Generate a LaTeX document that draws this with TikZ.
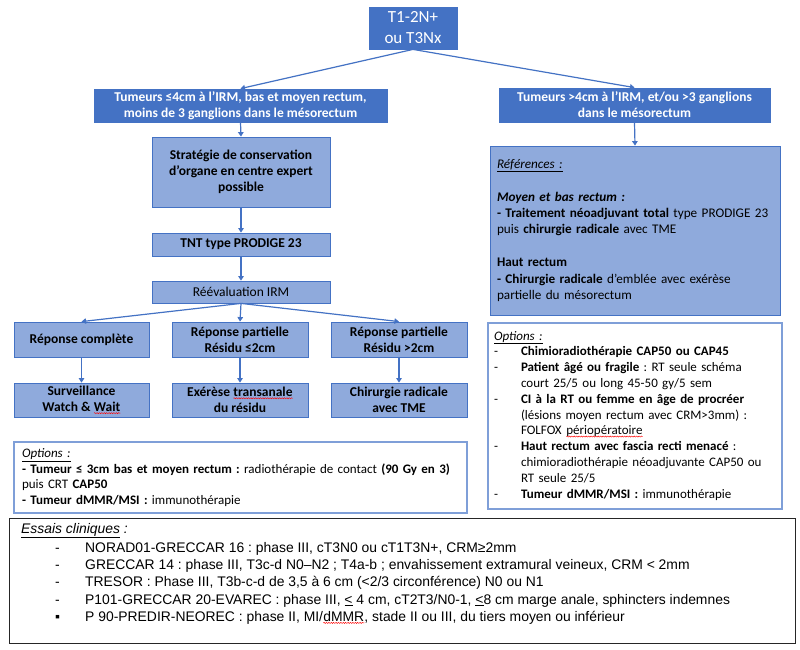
\documentclass[tikz,border=0pt]{standalone}
\usepackage{fontspec}
\setmainfont{Carlito}
\newfontfamily\arialf{Liberation Sans}
\usetikzlibrary{arrows.meta,decorations.pathmorphing}
\definecolor{dkblue}{HTML}{4472C4}
\definecolor{ltblue}{HTML}{8FAADC}
\definecolor{optborder}{HTML}{7F9FD8}
\frenchspacing
\newcommand\redwave[1]{\tikz[baseline=(spellw.base)]{\node[inner sep=0pt,outer sep=0pt,font={},draw=none,fill=none,minimum width=0pt,minimum height=0pt] (spellw) {#1};
  \draw[red, line width=0.45pt, decorate, decoration={snake, amplitude=0.55pt, segment length=2.4pt}] ([yshift=-1.6pt]spellw.base west) -- ([yshift=-1.6pt]spellw.base east);}}
\begin{document}
\begin{tikzpicture}[x=1pt,y=-1pt,
  dkbox/.style={draw=dkblue, fill=dkblue, text=white, font=\bfseries\fontsize{13.5}{16}\selectfont, align=center, inner sep=0pt, line width=0.8pt},
  ltbox/.style={draw=dkblue, fill=ltblue, text=black, font=\bfseries\fontsize{13.5}{16}\selectfont, align=center, inner sep=0pt, line width=0.8pt},
  optbox/.style={draw=optborder, fill=white, line width=1.1pt, inner sep=0pt, font=\fontsize{13}{15.8}\selectfont},
  arr/.style={draw=dkblue, line width=1.2pt, -{Triangle[width=5.5pt,length=4.5pt]}},
]
\useasboundingbox (0,0) rectangle (800,650);
\fill[white] (0,0) rectangle (800,650);

\node[dkbox, minimum width=88pt, minimum height=42pt, font=\fontsize{17}{21}\selectfont] (top) at (413,28) {T1-2N+\\ou T3Nx};

\node[dkbox, minimum width=293pt, minimum height=33pt] (L1) at (240.5,105.5) {Tumeurs ≤4cm à l’IRM, bas et moyen rectum,\\moins de 3 ganglions dans le mésorectum};
\node[dkbox, minimum width=271pt, minimum height=34pt] (R1) at (634.5,105) {Tumeurs >4cm à l’IRM, et/ou >3 ganglions\\dans le mésorectum};

\node[ltbox, minimum width=290pt, minimum height=169pt, font=\fontsize{13.2}{16.4}\selectfont, align=left, text width=276pt] (ref) at (635,230.5) {\underline{\textit{Références :}}\\
\mbox{}\\
\textbf{\textit{Moyen et bas rectum :}}\\
\textbf{- Traitement néoadjuvant total} type PRODIGE 23\\
puis \textbf{chirurgie radicale} avec TME\\
\mbox{}\\
\textbf{Haut rectum}\\
\textbf{- Chirurgie radicale} d’emblée avec exérèse\\
partielle du mésorectum};

\node[ltbox, minimum width=178pt, minimum height=70pt] (strat) at (241,172) {Stratégie de conservation\\d’organe en centre expert\\possible};
\node[ltbox, minimum width=178pt, minimum height=23pt] (tnt) at (241,244.5) {TNT type PRODIGE 23};
\node[ltbox, minimum width=178pt, minimum height=22pt, font=\fontsize{13.5}{16}\selectfont] (reev) at (241,292) {Réévaluation IRM};

\node[ltbox, minimum width=135pt, minimum height=35pt] (rc) at (81.5,339.5) {Réponse complète};
\node[ltbox, minimum width=136pt, minimum height=35pt] (rp1) at (240,339.5) {Réponse partielle\\Résidu ≤2cm};
\node[ltbox, minimum width=136pt, minimum height=35pt] (rp2) at (399,339.5) {Réponse partielle\\Résidu >2cm};

\node[ltbox, minimum width=135pt, minimum height=34pt] (sw) at (81.5,400) {Surveillance\\Watch \& \redwave{Wait}};
\node[ltbox, minimum width=136pt, minimum height=34pt] (ex) at (240,400) {Exérèse \redwave{transanale}\\du résidu};
\node[ltbox, minimum width=136pt, minimum height=34pt] (ch) at (399,400) {Chirurgie radicale\\avec TME};

\node[optbox, minimum width=453pt, minimum height=71pt, align=left, text width=437pt] (optL) at (240.5,477.5) {\underline{\textit{Options :}}\\
\textbf{- Tumeur ≤ 3cm bas et moyen rectum :} radiothérapie de contact \textbf{(90 Gy en 3)}\\
puis CRT \textbf{CAP50}\\
\textbf{- Tumeur dMMR/MSI :} immunothérapie};

\node[optbox, minimum width=294pt, minimum height=186pt, align=left, text width=282pt] (optR) at (635,416) {\begin{tabular}{@{}p{27pt}@{}l@{}}
\multicolumn{2}{@{}l@{}}{\underline{\textit{Options :}}}\\
- & \textbf{Chimioradiothérapie CAP50 ou CAP45}\\
- & \textbf{Patient âgé ou fragile} : RT seule schéma\\
  & court 25/5 ou long 45-50 gy/5 sem\\
- & \textbf{CI à la RT ou femme en âge de procréer}\\
  & (lésions moyen rectum avec CRM>3mm) :\\
  & FOLFOX \redwave{périopératoire}\\
- & \textbf{Haut rectum avec fascia recti menacé} :\\
  & chimioradiothérapie néoadjuvante CAP50 ou\\
  & RT seule 25/5\\
- & \textbf{Tumeur dMMR/MSI :} immunothérapie
\end{tabular}};

\node[draw=black!85, line width=1pt, fill=white, minimum width=786pt, minimum height=125pt, inner sep=0pt] (essais) at (402,580.5) {};
\node[anchor=north west, inner sep=0pt, align=left, font=\arialf\fontsize{13.9}{17.3}\selectfont] (essaitxt) at (21,521) {\begin{tabular}{@{}p{34pt}@{}p{30pt}@{}l@{}}
\multicolumn{3}{@{}l@{}}{\underline{\textit{Essais cliniques}}\textit{ :}}\\[1.5pt]
 & - & NORAD01-GRECCAR 16 : phase III, cT3N0 ou cT1T3N+, CRM≥2mm\\
 & - & GRECCAR 14 : phase III, T3c-d N0–N2 ; T4a-b ; envahissement extramural veineux, CRM < 2mm\\
 & - & TRESOR : Phase III, T3b-c-d de 3,5 à 6 cm (<2/3 circonférence) N0 ou N1\\
 & - & P101-GRECCAR 20-EVAREC : phase III, \underline{<} 4 cm, cT2T3/N0-1, \underline{<}8 cm marge anale, sphincters indemnes\\
 & ▪ & P 90-PREDIR-NEOREC : phase II, MI/\redwave{dMMR}, stade II ou III, du tiers moyen ou inférieur
\end{tabular}};

\draw[arr] (top.south) -- (L1.north);
\draw[arr] (top.south) -- (R1.north);
\draw[arr] (R1.south) -- (ref.north);
\draw[arr] (L1.south) -- (strat.north);
\draw[arr] (strat.south) -- (tnt.north);
\draw[arr] (tnt.south) -- (reev.north);
\draw[arr] (reev.south) -- (rc.north);
\draw[arr] (reev.south) -- (rp1.north);
\draw[arr] (reev.south) -- (rp2.north);
\draw[arr] (rc.south) -- (sw.north);
\draw[arr] (rp1.south) -- (ex.north);
\draw[arr] (rp2.south) -- (ch.north);
\end{tikzpicture}
\end{document}
